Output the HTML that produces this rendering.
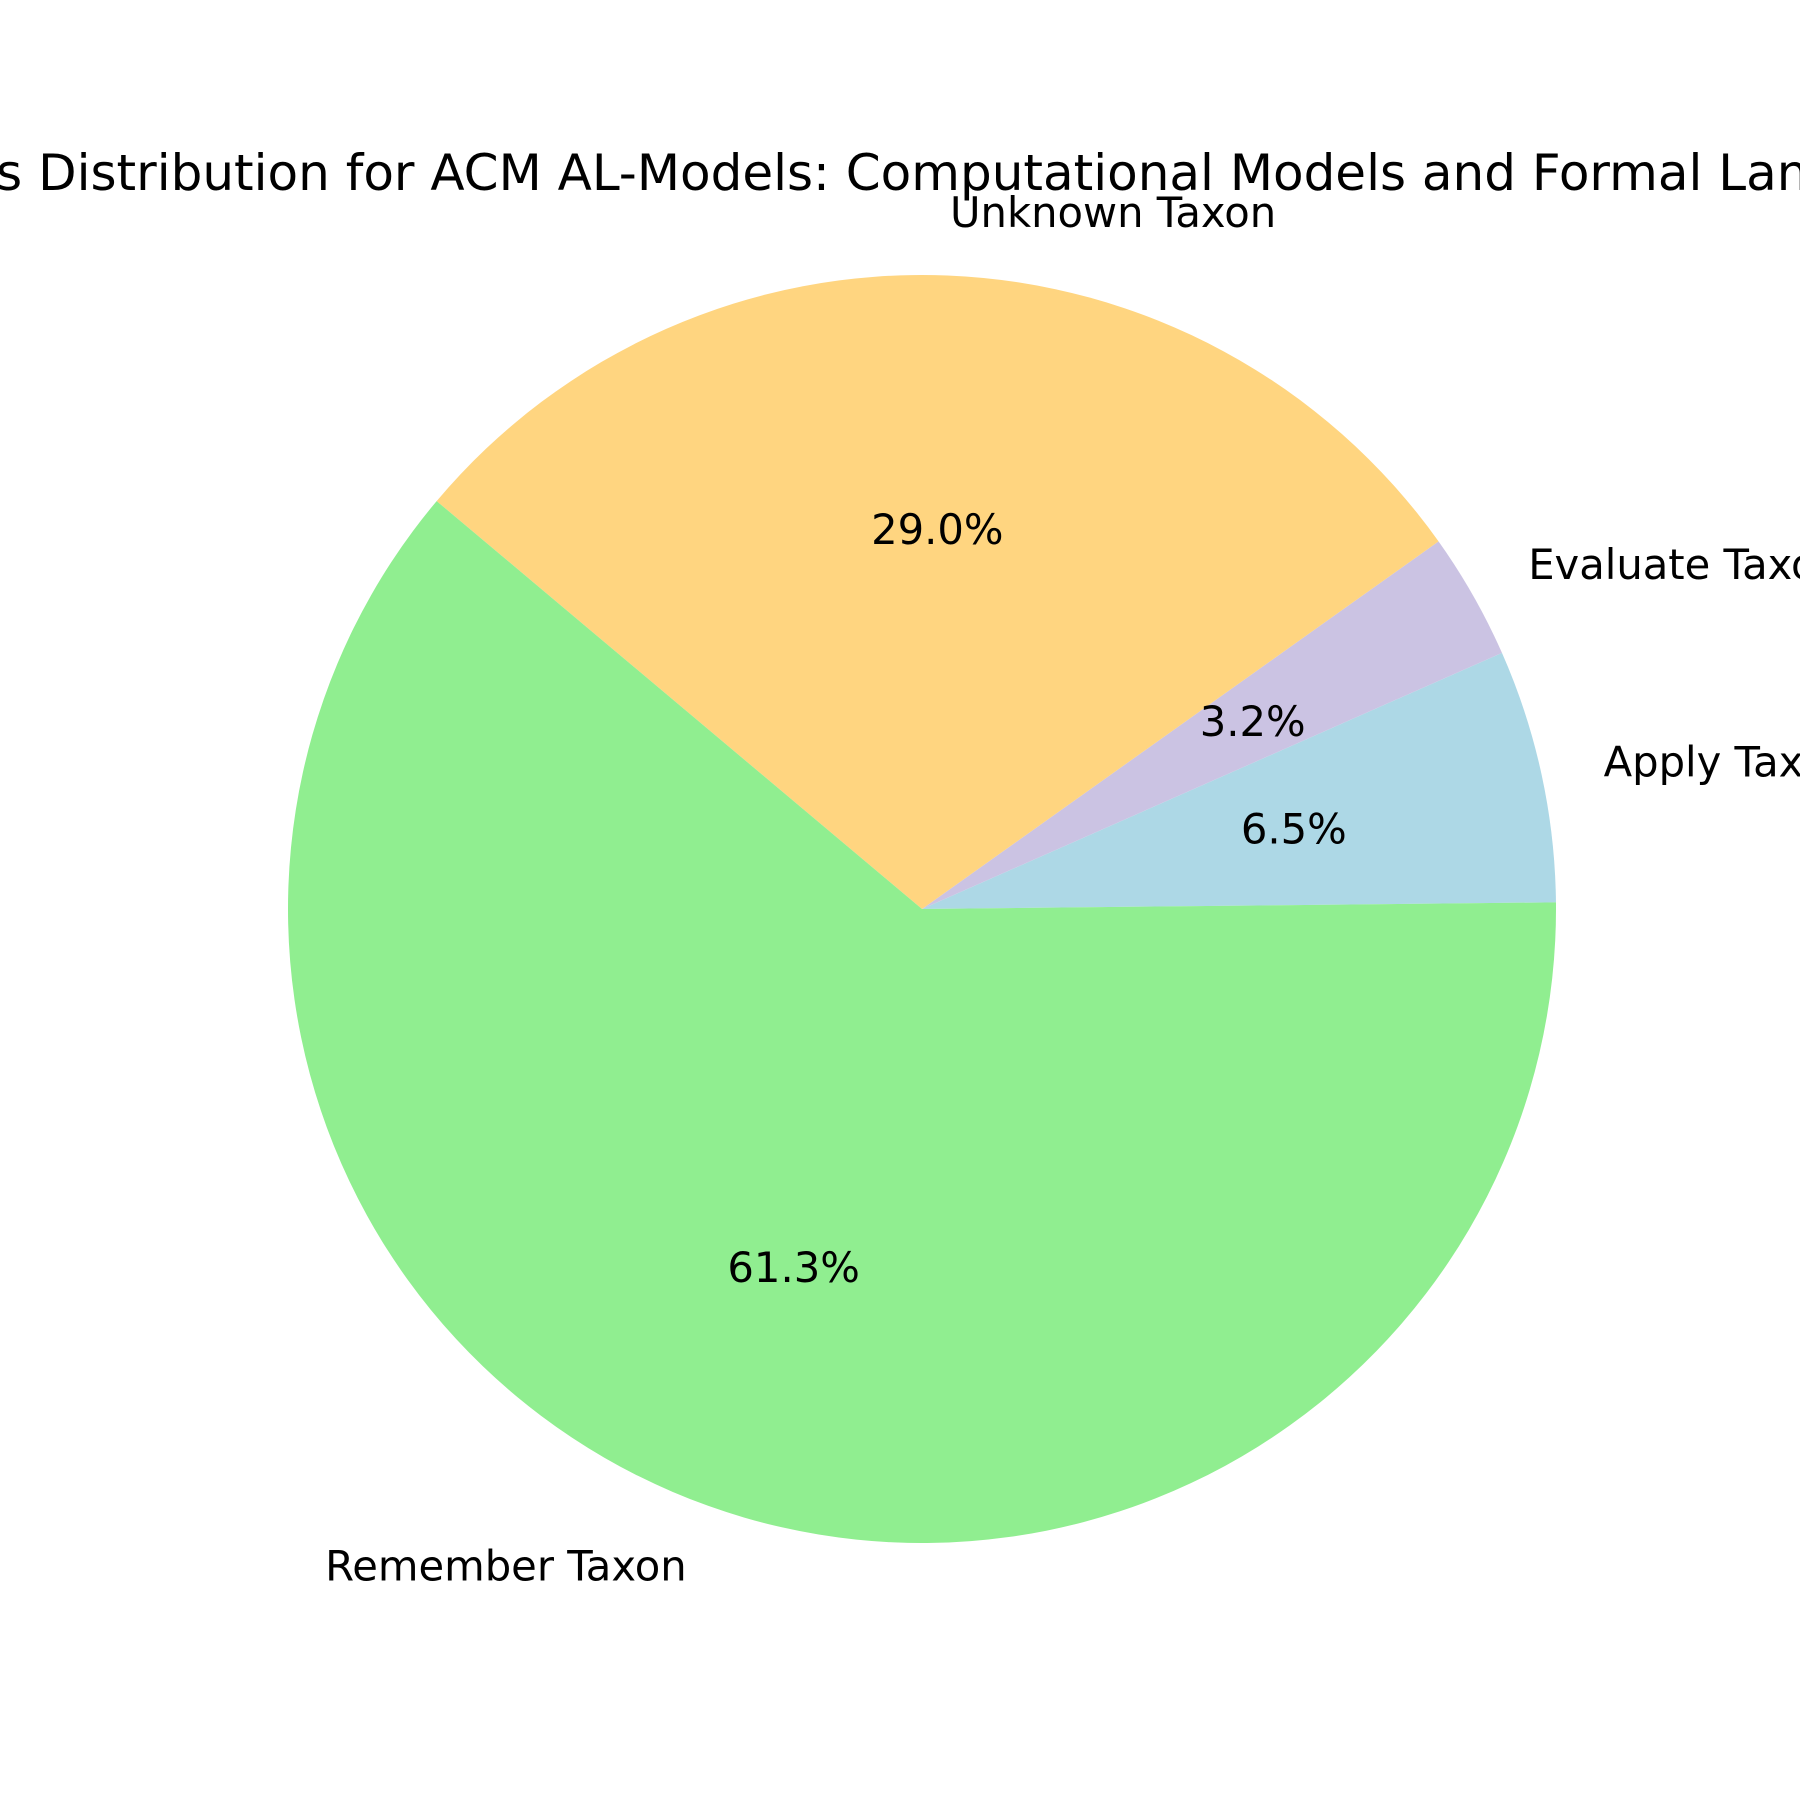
<!DOCTYPE html>
<html><head><meta charset="utf-8"><style>
html,body{margin:0;padding:0;background:#fff;}
svg{display:block;font-family:"DejaVu Sans","Liberation Sans",sans-serif;}
</style></head><body>
<svg id="chart" width="1800" height="1800" viewBox="0 0 1800 1800" xmlns="http://www.w3.org/2000/svg">
<rect width="1800" height="1800" fill="#fff"/>
<text x="922" y="190" text-anchor="middle" font-size="50" fill="#000">Taxons Distribution for ACM AL-Models: Computational Models and Formal Languages</text>
<g id="slices"></g>
<g id="labels"></g>
</svg>
<script>
const categories = ["Apply Taxon", "Evaluate Taxon", "Unknown Taxon", "Remember Taxon"];
const values = [2, 1, 9, 19];
const colors = ["#add8e6", "#cbc3e3", "#ffd580", "#90ee90"];
const pctLabels = ["6.5%", "3.2%", "29.0%", "61.3%"];

const cx = 922, cy = 909, R = 634, startAngle = 0.6;
const NS = "http://www.w3.org/2000/svg";
const total = values.reduce((a, b) => a + b, 0);
const gS = document.getElementById("slices");
const gL = document.getElementById("labels");
function pt(deg, r) { const a = deg * Math.PI / 180; return [cx + r * Math.cos(a), cy - r * Math.sin(a)]; }
let ang = startAngle;
values.forEach((v, i) => {
  const sweep = v / total * 360;
  const a0 = ang, a1 = ang + sweep;
  const p0 = pt(a0, R), p1 = pt(a1, R);
  const large = sweep > 180 ? 1 : 0;
  const path = document.createElementNS(NS, "path");
  path.setAttribute("d", `M${cx},${cy} L${p0[0]},${p0[1]} A${R},${R} 0 ${large} 0 ${p1[0]},${p1[1]} Z`);
  path.setAttribute("fill", colors[i]);
  
  
  gS.appendChild(path);
  const mid = (a0 + a1) / 2;
  const lp = pt(mid, R * 1.1);
  const t = document.createElementNS(NS, "text");
  t.setAttribute("x", lp[0]); t.setAttribute("y", lp[1] + 15);
  t.setAttribute("font-size", "41.7");
  t.setAttribute("text-anchor", Math.cos(mid * Math.PI / 180) >= 0 ? "start" : "end");
  t.textContent = categories[i];
  
  
  gL.appendChild(t);
  const pp = pt(mid, R * 0.6);
  const t2 = document.createElementNS(NS, "text");
  t2.setAttribute("x", pp[0]); t2.setAttribute("y", pp[1] + 15);
  t2.setAttribute("font-size", "41.7");
  t2.setAttribute("text-anchor", "middle");
  t2.textContent = pctLabels[i];
  
  
  gL.appendChild(t2);
  ang = a1;
});
</script>
</body></html>
